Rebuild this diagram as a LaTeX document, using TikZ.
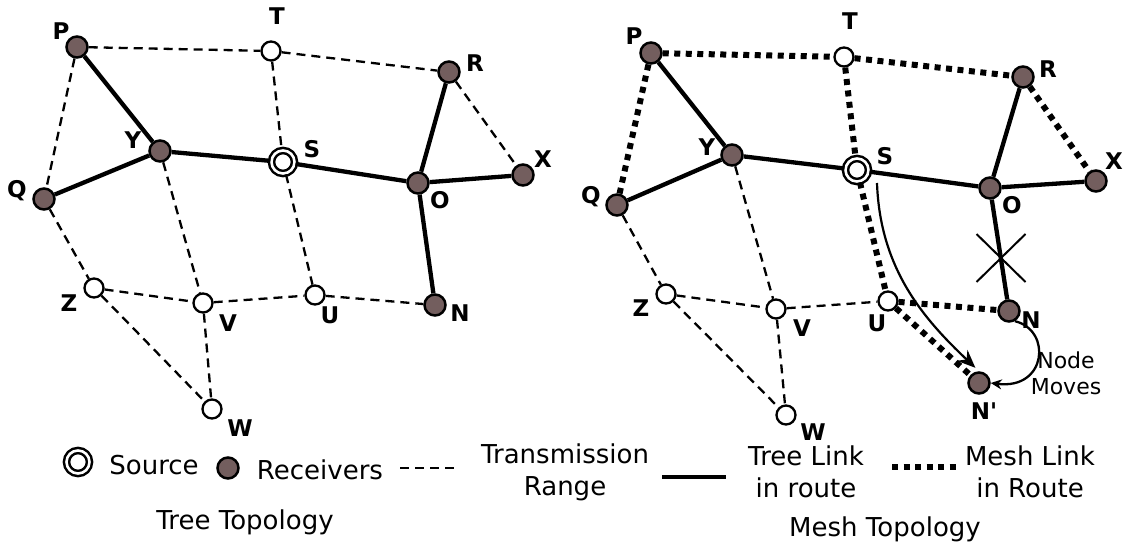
\documentclass[tikz,border=0pt]{standalone}
\usepackage{fontspec}
\setmainfont{DejaVu Sans}
\usetikzlibrary{arrows.meta,shapes.misc}
\definecolor{rcvbrown}{RGB}{115,94,94}
\tikzset{
  rcv/.style={circle,draw,line width=2.5pt,fill=rcvbrown,minimum size=21pt,inner sep=0pt},
  relay/.style={circle,draw,line width=2.3pt,fill=white,minimum size=19pt,inner sep=0pt},
  src/.style={circle,draw,double=white,double distance=2.6pt,line width=2.5pt,fill=white,minimum size=23pt,inner sep=0pt},
  lbl/.style={font=\fontsize{23}{27}\selectfont\bfseries,inner sep=0pt},
  legtext/.style={font=\fontsize{26}{32}\selectfont,align=center,inner sep=0pt},
  txrange/.style={line width=2.3pt,dash pattern=on 9pt off 6pt},
  treelink/.style={line width=4.3pt},
  meshlink/.style={line width=6pt,dash pattern=on 6pt off 5.5pt},
}
\begin{document}
\begin{tikzpicture}[x=1pt,y=-1pt]
\useasboundingbox (0,0) rectangle (1127,549);

% Left diagram - Tree topology
\node[rcv] (lP) at (77,47) {};
\node[relay] (lT) at (271,51) {};
\node[rcv] (lR) at (449,72) {};
\node[rcv] (lY) at (160,151) {};
\node[src] (lS) at (283,162) {};
\node[rcv] (lO) at (418,183) {};
\node[rcv] (lX) at (523,175) {};
\node[rcv] (lQ) at (44,199) {};
\node[relay] (lZ) at (94,288) {};
\node[relay] (lV) at (203,303) {};
\node[relay] (lU) at (315,295) {};
\node[rcv] (lN) at (435,305) {};
\node[relay] (lW) at (212,409) {};

% transmission range
\draw[txrange] (lP) -- (lT);
\draw[txrange] (lT) -- (lR);
\draw[txrange] (lP) -- (lQ);
\draw[txrange] (lT) -- (lS);
\draw[txrange] (lR) -- (lX);
\draw[txrange] (lY) -- (lV);
\draw[txrange] (lS) -- (lU);
\draw[txrange] (lQ) -- (lZ);
\draw[txrange] (lZ) -- (lV);
\draw[txrange] (lV) -- (lU);
\draw[txrange] (lU) -- (lN);
\draw[txrange] (lZ) -- (lW);
\draw[txrange] (lV) -- (lW);

% tree links
\draw[treelink] (lP) -- (lY);
\draw[treelink] (lY) -- (lQ);
\draw[treelink] (lY) -- (lS);
\draw[treelink] (lS) -- (lO);
\draw[treelink] (lO) -- (lR);
\draw[treelink] (lO) -- (lX);
\draw[treelink] (lO) -- (lN);

% labels
\node[lbl] (lPt) at (61,31) {P};
\node[lbl] (lTt) at (277,16) {T};
\node[lbl] (lRt) at (475,63) {R};
\node[lbl] (lYt) at (133,140) {Y};
\node[lbl] (lSt) at (312,149) {S};
\node[lbl] (lOt) at (440,200) {O};
\node[lbl] (lXt) at (543,159) {X};
\node[lbl] (lQt) at (17,191) {Q};
\node[lbl] (lZt) at (69,303) {Z};
\node[lbl] (lVt) at (228,323) {V};
\node[lbl] (lUt) at (330,315) {U};
\node[lbl] (lNt) at (460,313) {N};
\node[lbl] (lWt) at (240,428) {W};

% Right diagram - Mesh topology
\node[rcv] (rP) at (651,53) {};
\node[relay] (rT) at (844,57) {};
\node[rcv] (rR) at (1023,77) {};
\node[rcv] (rY) at (732,155) {};
\node[src] (rS) at (857,170) {};
\node[rcv] (rO) at (990,188) {};
\node[rcv] (rX) at (1096,181) {};
\node[rcv] (rQ) at (617,205) {};
\node[relay] (rZ) at (666,294) {};
\node[relay] (rV) at (776,309) {};
\node[relay] (rU) at (888,301) {};
\node[rcv] (rN) at (1009,311) {};
\node[rcv] (rNp) at (979,383) {};
\node[relay] (rW) at (786,415) {};

% transmission range
\draw[txrange] (rY) -- (rV);
\draw[txrange] (rQ) -- (rZ);
\draw[txrange] (rZ) -- (rV);
\draw[txrange] (rV) -- (rU);
\draw[txrange] (rZ) -- (rW);
\draw[txrange] (rV) -- (rW);

% mesh links
\draw[meshlink] (rP) -- (rT);
\draw[meshlink] (rT) -- (rR);
\draw[meshlink] (rP) -- (rQ);
\draw[meshlink] (rT) -- (rS);
\draw[meshlink] (rR) -- (rX);
\draw[meshlink] (rS) -- (rU);
\draw[meshlink] (rU) -- (rN);
\draw[meshlink] (rU) -- (rNp);

% tree links
\draw[treelink] (rP) -- (rY);
\draw[treelink] (rY) -- (rQ);
\draw[treelink] (rY) -- (rS);
\draw[treelink] (rS) -- (rO);
\draw[treelink] (rO) -- (rR);
\draw[treelink] (rO) -- (rX);
\draw[treelink] (rO) -- (rN);

% broken link and movement
\node[cross out,draw,line width=2pt,minimum width=47pt,minimum height=46pt] (brk) at (1001,258) {};
\coordinate (mvA) at (877,183);
\draw[line width=2.2pt,shorten >=5pt,-{Stealth[length=18pt,width=15pt]}] (mvA) .. controls (880,270) and (925,320) .. (rNp.north);
\draw[line width=2.3pt,-{Stealth[length=11pt,width=10pt]}] (rN.-60) .. controls (1052,330) and (1047,390) .. (rNp.east);
\node[font=\fontsize{22}{26}\selectfont,align=center,inner sep=0pt] (mvt) at (1066,373) {Node\\Moves};

% labels
\node[lbl] (rPt) at (634,36) {P};
\node[lbl] (rTt) at (850,21) {T};
\node[lbl] (rRt) at (1048,69) {R};
\node[lbl] (rYt) at (707,147) {Y};
\node[lbl] (rSt) at (885,156) {S};
\node[lbl] (rOt) at (1012,205) {O};
\node[lbl] (rXt) at (1114,161) {X};
\node[lbl] (rQt) at (591,197) {Q};
\node[lbl] (rZt) at (641,308) {Z};
\node[lbl] (rVt) at (802,328) {V};
\node[lbl] (rUt) at (877,323) {U};
\node[lbl] (rNt) at (1031,320) {N};
\node[lbl] (rNpt) at (984,411) {N\textquotesingle};
\node[lbl] (rWt) at (813,432) {W};

% Legend
\node[src] (gS) at (78,462) {};
\node[legtext] (gSt) at (154,465) {Source};
\node[rcv] (gR) at (228,468) {};
\node[legtext] (gRt) at (320,470) {Receivers};
\coordinate (gA1) at (400,468);
\coordinate (gA2) at (456,468);
\draw[txrange] (gA1) -- (gA2);
\node[legtext] (gAt) at (565,472) {Transmission\\Range};
\coordinate (gB1) at (662,477);
\coordinate (gB2) at (726,477);
\draw[treelink] (gB1) -- (gB2);
\node[legtext] (gBt) at (806,472) {Tree Link\\in route};
\coordinate (gC1) at (892,467);
\coordinate (gC2) at (958,467);
\draw[meshlink] (gC1) -- (gC2);
\node[legtext] (gCt) at (1030,472) {Mesh Link\\in Route};

% captions
\node[legtext] (capL) at (245,522) {Tree Topology};
\node[legtext] (capR) at (885,529) {Mesh Topology};
\end{tikzpicture}
\end{document}
